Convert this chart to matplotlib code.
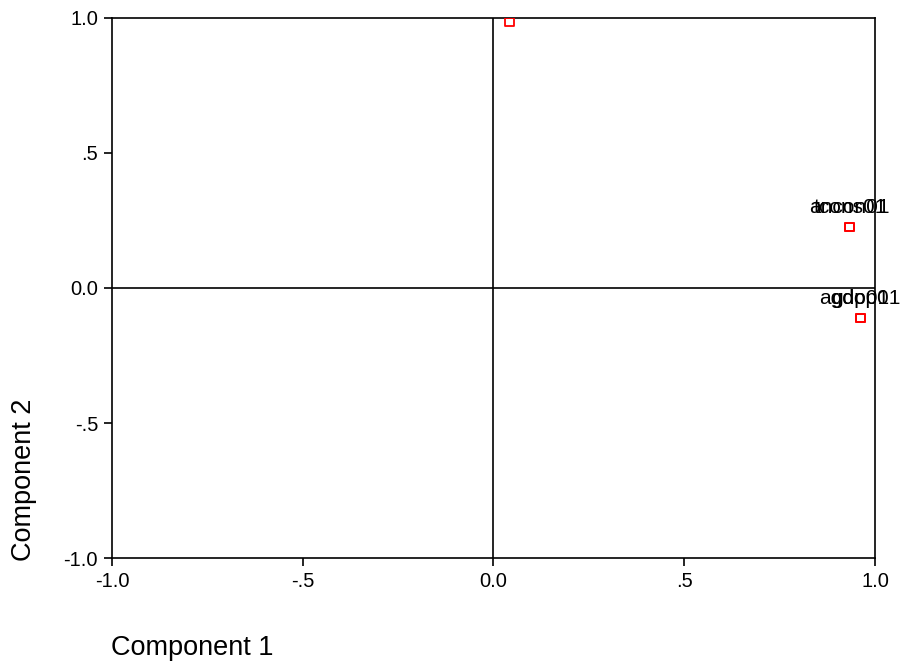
import matplotlib
matplotlib.use("Agg")
import matplotlib.pyplot as plt

plt.rcParams['font.family'] = ['Liberation Sans', 'DejaVu Sans']

# component loadings
labels = ['', 'tcons01', 'ancon01', 'agdop01', 'gdp01']
comp1 = [0.041, 0.934, 0.934, 0.961, 0.961]
comp2 = [0.985, 0.226, 0.226, -0.111, -0.111]

ticks = [-1.0, -0.5, 0.0, 0.5, 1.0]
tick_labels = ['-1.0', '-.5', '0.0', '.5', '1.0']

fig = plt.figure(figsize=(9.03, 6.64), dpi=100)
ax = fig.add_axes([0.124, 0.1596, 0.845, 0.8134])

ax.axhline(0, color='black', lw=1.2, zorder=1)
ax.axvline(0, color='black', lw=1.2, zorder=1)

ax.scatter(comp1, comp2, marker='s', s=40, facecolors='none',
           edgecolors='red', linewidths=1.3, zorder=3)
for lab, x, y in zip(labels, comp1, comp2):
    if lab:
        ax.annotate(lab, (x, y), xytext=(0, 7), textcoords='offset points',
                    ha='center', va='bottom', fontsize=15)

ax.set_xlim(-1, 1)
ax.set_ylim(-1, 1)
ax.set_xticks(ticks)
ax.set_xticklabels(tick_labels)
ax.set_yticks(ticks)
ax.set_yticklabels(tick_labels)
ax.tick_params(direction='out', length=6, width=1.2, labelsize=14.5, pad=4)
for sp in ax.spines.values():
    sp.set_linewidth(1.2)

fig.text(0.123, 0.005, 'Component 1', fontsize=19.5, ha='left', va='bottom')
fig.text(0.012, 0.155, 'Component 2', fontsize=19.5, rotation=90,
         ha='left', va='bottom')

fig.savefig('out.png', dpi=100)
